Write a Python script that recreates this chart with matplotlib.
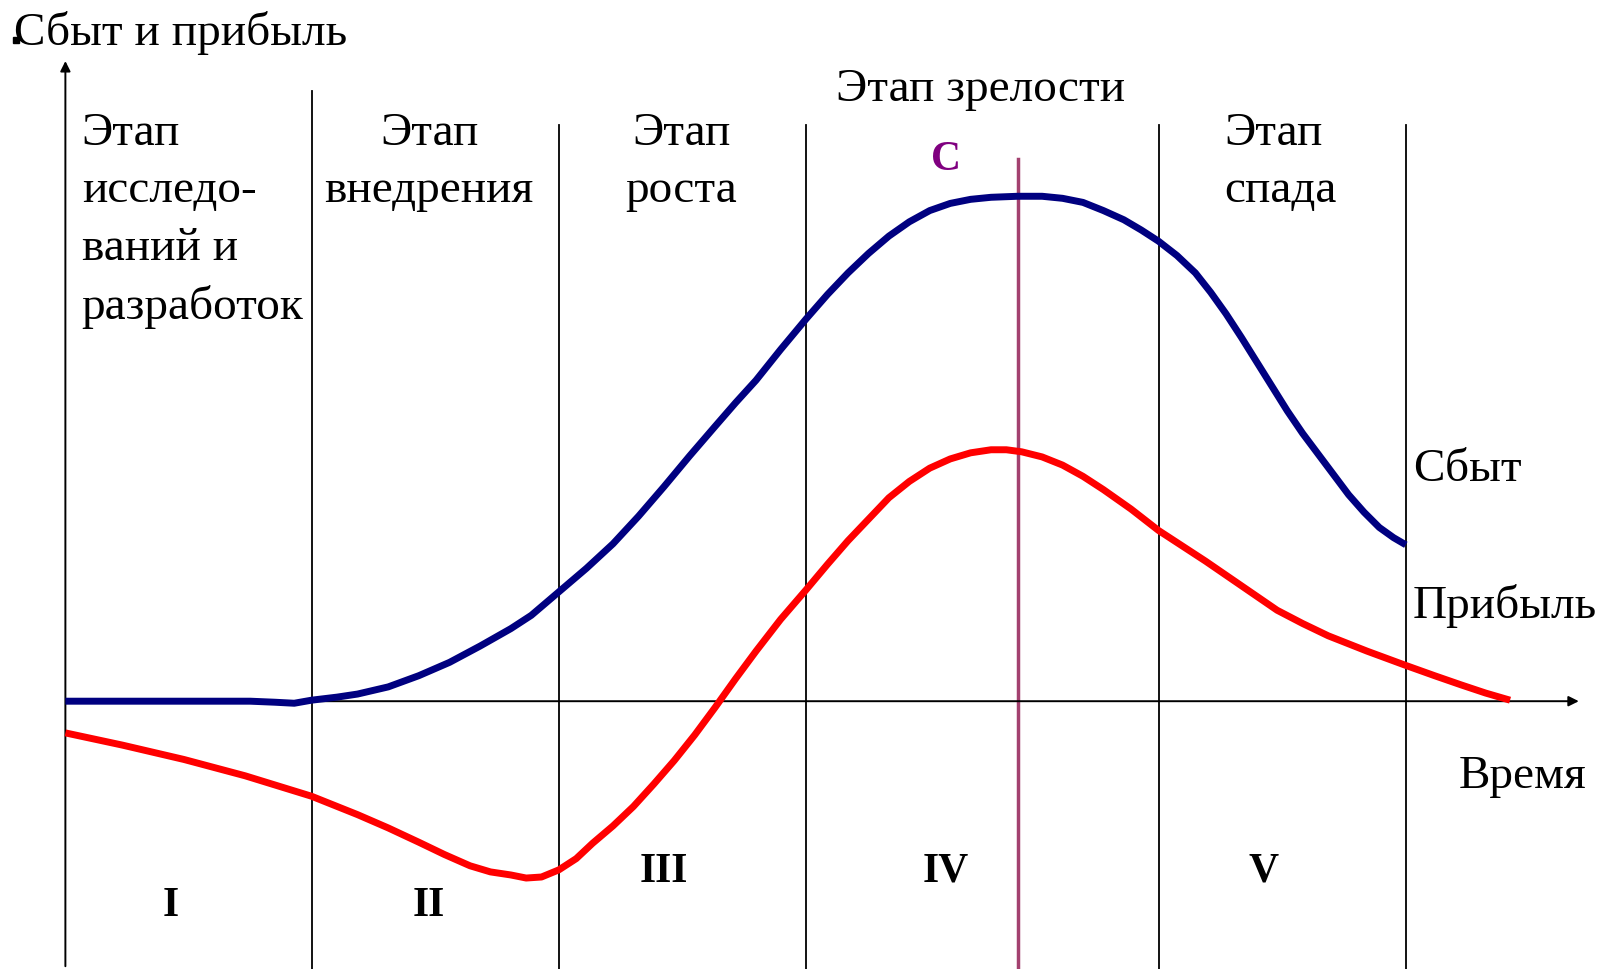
import matplotlib.pyplot as plt

plt.rcParams['font.family'] = ['Liberation Serif', 'DejaVu Serif']

# time axis and values (arbitrary units, origin at the axes crossing)
sales_t = [0, 181, 205, 224, 241, 266, 286, 316, 346, 376, 406, 436, 456, 483, 510,
           536, 561, 586, 611, 636, 656, 676, 700, 725, 746, 766, 786, 806, 826, 846,
           866, 886, 906, 932, 956, 976, 996, 1016, 1036, 1053, 1070, 1088, 1106,
           1121, 1136, 1151, 1166, 1181, 1196, 1211, 1226, 1241, 1256, 1271, 1286,
           1300, 1312]
sales_v = [0, 0, -1, -2, 1, 4, 7, 14, 25, 38, 54, 71, 84, 107, 130,
           154, 181, 210, 240, 269, 292, 314, 344, 374, 398, 419, 438, 455, 469, 480,
           487, 491, 493, 494, 494, 492, 488, 480, 471, 461, 450, 436, 419,
           400, 379, 356, 332, 308, 284, 262, 242, 222, 202, 185, 170,
           160, 153]

profit_t = [0, 56, 116, 176, 241, 286, 316, 346, 371, 396, 416, 436, 451, 466, 483,
            500, 516, 536, 556, 576, 596, 616, 636, 656, 676, 700, 725, 746, 766, 786,
            806, 826, 846, 866, 886, 906, 921, 936, 956, 976, 996, 1016, 1043, 1070,
            1093, 1116, 1151, 1186, 1211, 1236, 1274, 1312, 1340, 1366, 1390, 1414]
profit_v = [-31, -43, -57, -73, -93, -111, -124, -138, -150, -161, -167, -170, -173,
            -172, -165, -154, -139, -122, -103, -81, -58, -33, -6, 22, 49, 80, 109,
            134, 157, 178, 199, 215, 228, 237, 243, 246, 246, 244, 239, 231, 220, 207,
            188, 167, 152, 137, 113, 89, 76, 64, 49, 35, 25, 16, 8, 1]

stage_bounds = [241, 483, 725, 1070, 1312]
stage_tops = [597, 564, 564, 564, 564]
peak_t = 932
numerals = ['I', 'II', 'III', 'IV', 'V']
numeral_t = [103, 356, 586, 862, 1173]
numeral_v = [-199, -199, -166, -166, -166]

fig = plt.figure(figsize=(16.02, 9.70), dpi=100)
ax = fig.add_axes([0, 0, 1, 1])
ax.set_xlim(-64, 1504)
ax.set_ylim(-262, 687)
ax.axis('off')

# axes with arrows
ax.annotate('', xy=(0, 629), xytext=(0, -262),
            arrowprops=dict(arrowstyle='-|>', color='black', lw=1.4, mutation_scale=15))
ax.annotate('', xy=(1484, 0), xytext=(0, 0),
            arrowprops=dict(arrowstyle='-|>', color='black', lw=1.4, mutation_scale=15))

# stage dividers
for t, top in zip(stage_bounds, stage_tops):
    ax.plot([t, t], [-262, top], color='black', lw=1.3)
ax.plot([peak_t, peak_t], [-262, 530], color='#A3416F', lw=2.5)

ax.plot(sales_t, sales_v, color='#000080', lw=5, solid_capstyle='butt',
        solid_joinstyle='round', zorder=3)
ax.plot(profit_t, profit_v, color='#FF0000', lw=5, solid_capstyle='butt',
        solid_joinstyle='round', zorder=3)

fs = 34
ls = 1.46
ax.text(-50, 655, 'Сбыт и прибыль', fontsize=fs, va='center', ha='left')
ax.plot([-48], [647], marker='s', color='black', ms=5)
ax.text(896, 599, 'Этап зрелости', fontsize=fs, va='center', ha='center')
ax.text(16, 577, 'Этап\nисследо-\nваний и\nразработок', fontsize=fs, va='top',
        ha='left', linespacing=ls)
ax.text(356, 577, 'Этап\nвнедрения', fontsize=fs, va='top', ha='center', linespacing=ls)
ax.text(603, 577, 'Этап\nроста', fontsize=fs, va='top', ha='center', linespacing=ls)
ax.text(1134, 577, 'Этап\nспада', fontsize=fs, va='top', ha='left', linespacing=ls)
ax.text(862, 530, 'С', fontsize=30, va='center', ha='center', color='#800080',
        fontweight='bold')
ax.text(1319, 227, 'Сбыт', fontsize=fs, va='center', ha='left')
ax.text(1319, 94, 'Прибыль', fontsize=fs, va='center', ha='left')
ax.text(1364, -73, 'Время', fontsize=fs, va='center', ha='left')

for n, t, v in zip(numerals, numeral_t, numeral_v):
    ax.text(t, v, n, fontsize=30, fontweight='bold', va='center', ha='center')

fig.savefig('out.png', dpi=100)
